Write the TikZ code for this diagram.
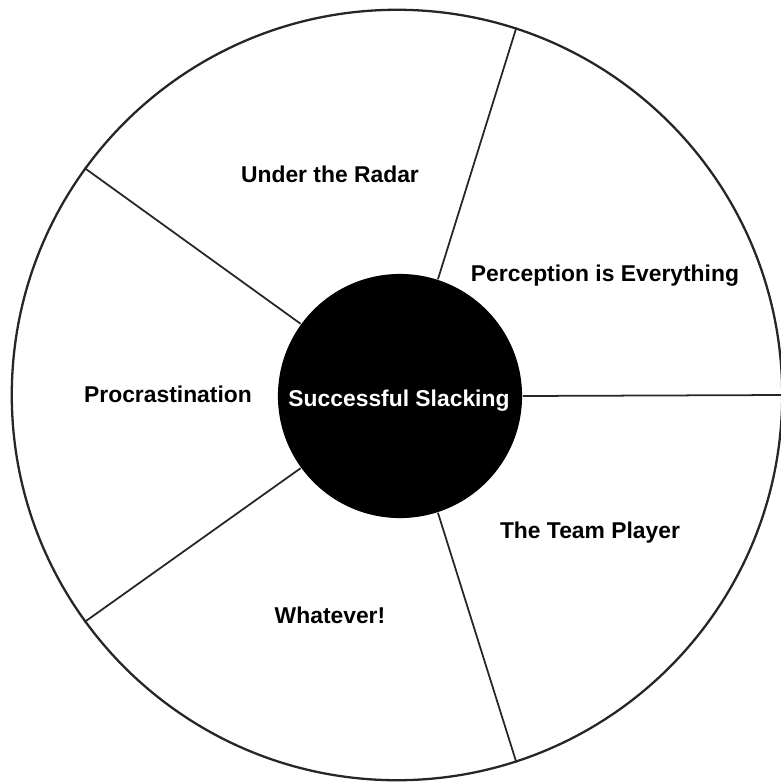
\documentclass[tikz,border=0pt]{standalone}
\usepackage{fontspec}
\setmainfont{Liberation Sans}
\usepackage{tikz}
\tikzset{
	spoke/.style={line width=0.5pt, black!85},
	lbl/.style={anchor=base, inner sep=0pt, font=\fontsize{6.5}{7}\selectfont\bfseries}
}

\begin{document}
\begin{tikzpicture}[x=0.01cm,y=-0.01cm]
		\useasboundingbox (0,0) rectangle (781,784);
		\node[draw, circle, line width=0.65pt, black!85, minimum size=7.7cm, inner sep=0pt] (rim) at (397,395) {};
		\node[fill=black, circle, minimum size=2.44cm, inner sep=0pt] (hub) at (400,396) {};
		\draw[spoke] (hub.0) -- (rim.0);
		\draw[spoke] (hub.72) -- (rim.72);
		\draw[spoke] (hub.144) -- (rim.144);
		\draw[spoke] (hub.216) -- (rim.216);
		\draw[spoke] (hub.288) -- (rim.288);
		\node[lbl, white] (centre) at (399,406) {Successful Slacking};
		\node[lbl] (radar) at (330,182) {Under the Radar};
		\node[lbl] (perception) at (605,281) {Perception is Everything};
		\node[lbl] (procrastination) at (168,402) {Procrastination};
		\node[lbl] (teamplayer) at (590,538) {The Team Player};
		\node[lbl] (whatever) at (330,623) {Whatever!};
	\end{tikzpicture}
\end{document}
